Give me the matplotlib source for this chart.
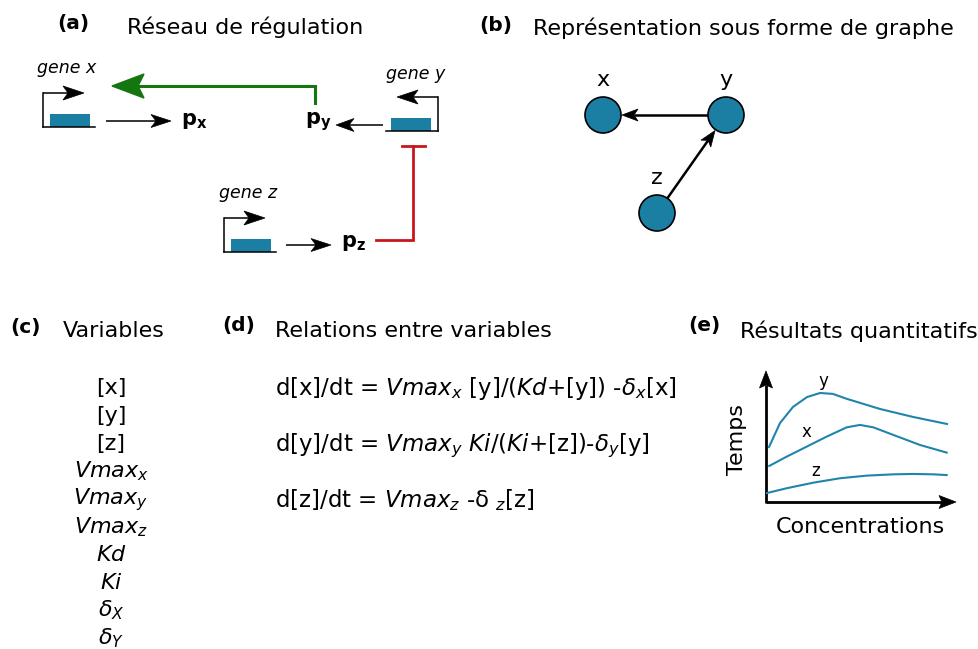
import numpy as np
import matplotlib
matplotlib.use('Agg')
import matplotlib.pyplot as plt
from matplotlib.patches import Rectangle, Circle, Polygon

plt.rcParams['font.family'] = ['DejaVu Sans']
plt.rcParams['mathtext.fontset'] = 'dejavusans'

BLUE = '#1b7fa3'
CURVE = '#2185ab'
GREEN = '#13760f'
RED = '#c8161c'

# textes
panel_labels = ['(a)', '(b)', '(c)', '(d)', '(e)']
panel_titles = ['Réseau de régulation', 'Représentation sous forme de graphe',
                'Variables', 'Relations entre variables', 'Résultats quantitatifs']
variables = ['[x]', '[y]', '[z]', r'$Vmax_x$', r'$Vmax_y$', r'$Vmax_z$',
             r'$Kd$', r'$Ki$', r'$\delta_X$', r'$\delta_Y$']
equations = [r'd[x]/dt = $Vmax_x$ [y]/($Kd$+[y]) -$\delta_x$[x]',
             r'd[y]/dt = $Vmax_y$ $Ki$/($Ki$+[z])-$\delta_y$[y]',
             r'd[z]/dt = $Vmax_z$ -δ $_z$[z]']
genes = ['gene x', 'gene y', 'gene z']
proteins = [r'$\mathbf{p_x}$', r'$\mathbf{p_y}$', r'$\mathbf{p_z}$']
nodes = ['x', 'y', 'z']
edges = [('y', 'x'), ('z', 'y')]

# courbes schematiques du panneau (e)
y_conc = [0.16, 0.74, 1.43, 2.17, 2.86, 3.54, 4.29, 6.03, 7.78, 9.58]
y_temps = [2.96, 4.25, 5.12, 5.65, 5.87, 5.82, 5.55, 5.01, 4.58, 4.20]
x_conc = [0.17, 1.09, 2.15, 3.21, 4.27, 4.97, 5.68, 6.74, 8.15, 9.56]
x_temps = [1.94, 2.44, 2.98, 3.52, 4.02, 4.15, 4.02, 3.61, 3.07, 2.66]
z_conc = [0.0, 1.09, 2.50, 3.92, 5.33, 6.74, 7.79, 8.85, 9.56]
z_temps = [0.47, 0.74, 1.04, 1.28, 1.42, 1.49, 1.51, 1.49, 1.45]


def arrow(ax, x0, y0, x1, y1, L=20, W=13, lw=1.1, color='black', notch=5):
    # trait + pointe creusee (style inkscape)
    u = np.array([x1 - x0, y1 - y0], dtype=float)
    u /= np.hypot(*u)
    n = np.array([-u[1], u[0]])
    tip = np.array([x1, y1], dtype=float)
    back = tip - L * u
    inner = tip - (L - notch) * u
    ax.plot([x0, inner[0]], [y0, inner[1]], color=color, lw=lw, solid_capstyle='butt')
    ax.add_patch(Polygon([tip, back + W / 2 * n, inner, back - W / 2 * n], closed=True,
                         facecolor=color, edgecolor=color, lw=0.5, zorder=4))


def draw_gene(ax, xp, yb, d):
    # ligne de base, boite codante, promoteur
    ax.plot([xp, xp + d * 52], [yb, yb], color='black', lw=1.1)
    x_left = min(xp + d * 7, xp + d * 47)
    ax.add_patch(Rectangle((x_left, yb - 13), 40, 13, facecolor=BLUE, edgecolor='none'))
    ax.plot([xp, xp], [yb, yb - 34], color='black', lw=1.1)
    arrow(ax, xp, yb - 34, xp + d * 41, yb - 34, L=21, W=14)


fig = plt.figure(figsize=(9.79, 6.49), dpi=100)
ax = fig.add_axes([0, 0, 1, 1])
ax.set_xlim(0, 979)
ax.set_ylim(649, 0)
ax.axis('off')

# titres des panneaux
label_pos = [(57, 23), (479, 25), (10, 327), (222, 326), (688, 326)]
title_pos = [(127, 27), (533, 28), (63, 331), (275, 331), (740, 331)]
for lab, (lx, ly), title, (tx, ty) in zip(panel_labels, label_pos, panel_titles, title_pos):
    ax.text(lx, ly, lab, fontsize=14.5, fontweight='bold', ha='left', va='center')
    ax.text(tx, ty, title, fontsize=16, ha='left', va='center')

# (a) reseau de regulation
draw_gene(ax, 43, 127, 1)
draw_gene(ax, 438, 131, -1)
draw_gene(ax, 224, 252, 1)
gene_pos = [(37, 68), (386, 74), (219, 193)]
for g, (gx, gy) in zip(genes, gene_pos):
    ax.text(gx, gy, g, fontsize=12.5, style='italic', ha='left', va='center')

arrow(ax, 106, 121, 171, 121)
arrow(ax, 383, 125, 336, 125, L=18)
arrow(ax, 286, 245, 331, 245)
prot_pos = [(181, 121), (305, 122), (341, 243)]
for p, (px, py) in zip(proteins, prot_pos):
    ax.text(px, py, p, fontsize=15, ha='left', va='center')

# activation (vert)
ax.plot([315, 315, 138], [103, 86, 86], color=GREEN, lw=2.2, solid_joinstyle='miter')
ax.add_patch(Polygon([(112, 86), (144, 74), (138, 86), (144, 98)], closed=True,
                     facecolor=GREEN, edgecolor=GREEN, lw=1))
# inhibition (rouge)
ax.plot([376, 413, 413], [240, 240, 146], color=RED, lw=2.0, solid_joinstyle='miter')
ax.plot([402, 425], [146, 146], color=RED, lw=2.0)

# (b) graphe
node_pos = {'x': (603, 115), 'y': (726, 115), 'z': (657, 213)}
r = 18
for n in nodes:
    cx, cy = node_pos[n]
    ax.add_patch(Circle((cx, cy), r, facecolor=BLUE, edgecolor='black', lw=1.2, zorder=3))
    ax.text(cx, cy - 35, n, fontsize=16, ha='center', va='center')
for a, b in edges:
    pa = np.array(node_pos[a], dtype=float)
    pb = np.array(node_pos[b], dtype=float)
    u = (pb - pa) / np.hypot(*(pb - pa))
    s = pa + r * u
    e = pb - (r + 1) * u
    arrow(ax, s[0], s[1], e[0], e[1], L=16, W=12, lw=1.8, notch=4)

# (c) variables
for i, v in enumerate(variables):
    ax.text(111, 388 + 27.8 * i, v, fontsize=16, ha='center', va='center')

# (d) equations
for i, eq in enumerate(equations):
    ax.text(275, [389, 446, 500][i], eq, fontsize=16.5, ha='left', va='center')

# (e) resultats quantitatifs
ax2 = fig.add_axes([766 / 979, 1 - 502 / 649, 189 / 979, 130 / 649])
ax2.set_xlim(0, 10)
ax2.set_ylim(0, 7)
ax2.axis('off')
ax2.plot(y_conc, y_temps, color=CURVE, lw=1.5)
ax2.plot(x_conc, x_temps, color=CURVE, lw=1.5)
ax2.plot(z_conc, z_temps, color=CURVE, lw=1.5)
ax2.text(3.02, 6.52, 'y', fontsize=12, ha='center', va='center')
ax2.text(2.12, 3.77, 'x', fontsize=12, ha='center', va='center')
ax2.text(2.65, 1.67, 'z', fontsize=12, ha='center', va='center')
arrow(ax, 766, 502, 956, 502, L=17, W=13, lw=2.0, notch=3)
arrow(ax, 766, 503, 766, 371, L=17, W=13, lw=2.0, notch=3)
ax2.text(-0.153, 0.477, 'Temps', fontsize=16, rotation=90, ha='center', va='center',
         transform=ax2.transAxes)
ax2.text(0.497, -0.192, 'Concentrations', fontsize=16, ha='center', va='center',
         transform=ax2.transAxes)

fig.savefig('out.png', dpi=100)
